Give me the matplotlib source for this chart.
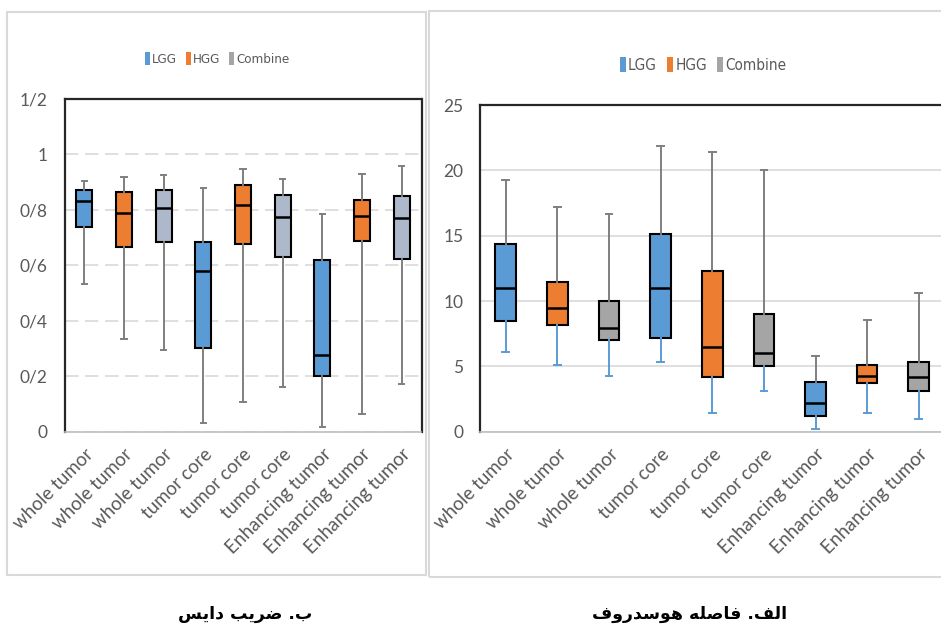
import matplotlib
matplotlib.use("Agg")
from matplotlib import pyplot as plt
from matplotlib.patches import Patch, Rectangle

W, H = 941, 632

categories = ["whole tumor", "whole tumor", "whole tumor",
              "tumor core", "tumor core", "tumor core",
              "Enhancing tumor", "Enhancing tumor", "Enhancing tumor"]
groups = ["LGG", "HGG", "Combine"] * 3

# Dice coefficient (left panel): low whisker, Q1, median, Q3, high whisker
dice_low = [0.531, 0.334, 0.295, 0.030, 0.106, 0.159, 0.018, 0.063, 0.173]
dice_q1 = [0.739, 0.666, 0.684, 0.301, 0.678, 0.628, 0.200, 0.688, 0.623]
dice_med = [0.831, 0.787, 0.807, 0.581, 0.816, 0.773, 0.277, 0.778, 0.770]
dice_q3 = [0.873, 0.865, 0.873, 0.684, 0.888, 0.855, 0.618, 0.837, 0.851]
dice_high = [0.904, 0.917, 0.925, 0.880, 0.947, 0.911, 0.784, 0.928, 0.957]
dice_ticks = [0, 0.2, 0.4, 0.6, 0.8, 1.0, 1.2]
dice_ticklabels = ["0", "0/2", "0/4", "0/6", "0/8", "1", "1/2"]

# Hausdorff distance (right panel)
haus_low = [6.07, 5.08, 4.23, 5.36, 1.43, 3.14, 0.18, 1.43, 0.99]
haus_q1 = [8.44, 8.14, 6.99, 7.19, 4.18, 5.00, 1.20, 3.70, 3.14]
haus_med = [11.02, 9.44, 7.93, 11.02, 6.51, 5.99, 2.22, 4.26, 4.18]
haus_q3 = [14.34, 11.45, 9.97, 15.10, 12.27, 8.98, 3.83, 5.08, 5.31]
haus_high = [19.23, 17.22, 16.63, 21.86, 21.43, 20.00, 5.82, 8.55, 10.64]
haus_ticks = [0, 5, 10, 15, 20, 25]

caption_left = "ب. ضریب دایس"
caption_right = "الف. فاصله هوسدروف"

BLUE = "#5B9BD5"
ORANGE = "#ED7D31"
GRAY = "#A5A5A5"
BLUEGRAY = "#ADB9CA"
TXT = "#595959"
TICKFONT = ["Lato", "DejaVu Sans"]

# minimal Arabic/Persian shaping (matplotlib has no text shaping)
FORMS = {
    "ا": ("\uFE8D", "\uFE8E", None, None),
    "ب": ("\uFE8F", "\uFE90", "\uFE91", "\uFE92"),
    "د": ("\uFEA9", "\uFEAA", None, None),
    "ر": ("\uFEAD", "\uFEAE", None, None),
    "س": ("\uFEB1", "\uFEB2", "\uFEB3", "\uFEB4"),
    "ص": ("\uFEB9", "\uFEBA", "\uFEBB", "\uFEBC"),
    "ض": ("\uFEBD", "\uFEBE", "\uFEBF", "\uFEC0"),
    "ف": ("\uFED1", "\uFED2", "\uFED3", "\uFED4"),
    "ل": ("\uFEDD", "\uFEDE", "\uFEDF", "\uFEE0"),
    "ه": ("\uFEE9", "\uFEEA", "\uFEEB", "\uFEEC"),
    "و": ("\uFEED", "\uFEEE", None, None),
    "ی": ("\uFBFC", "\uFBFD", "\uFBFE", "\uFBFF"),
}


def shape_rtl(s):
    out = []
    for i, c in enumerate(s):
        if c not in FORMS:
            out.append(c)
            continue
        prev = s[i - 1] if i > 0 else ""
        nxt = s[i + 1] if i + 1 < len(s) else ""
        jp = prev in FORMS and FORMS[prev][2] is not None
        jn = nxt in FORMS and FORMS[c][2] is not None
        iso, fin, ini, med = FORMS[c]
        if jp and jn:
            out.append(med)
        elif jp:
            out.append(fin)
        elif jn:
            out.append(ini)
        else:
            out.append(iso)
    return "".join(out)[::-1]


def px_axes(fig, x0, x1, ytop, ybot):
    return fig.add_axes([x0 / W, 1 - ybot / H, (x1 - x0) / W, (ybot - ytop) / H])


def draw_panel(ax, low, q1, med, q3, high, colors, split_whiskers, ticks, ticklabels, ylim, dashed):
    stats = []
    for i in range(len(categories)):
        stats.append(dict(whislo=low[i], q1=q1[i], med=med[i], q3=q3[i],
                          whishi=high[i], fliers=[], label=categories[i]))
    pos = list(range(len(stats)))
    res = ax.bxp(stats, positions=pos, widths=0.4, patch_artist=True, showfliers=False,
                 boxprops=dict(edgecolor="black", linewidth=1.5),
                 medianprops=dict(color="black", linewidth=1.8),
                 whiskerprops=dict(color="#7F7F7F", linewidth=1.4),
                 capprops=dict(color="#7F7F7F", linewidth=1.4),
                 capwidths=0.13, zorder=3)
    for b, c in zip(res["boxes"], colors):
        b.set_facecolor(c)
    if split_whiskers:
        for i in range(len(stats)):
            res["whiskers"][2 * i].set_color(BLUE)
            res["caps"][2 * i].set_color(BLUE)
    ax.set_xlim(-0.5, len(stats) - 0.5)
    ax.set_ylim(*ylim)
    ax.set_yticks(ticks)
    ax.set_yticklabels(ticklabels)
    ax.set_xticks(pos)
    ax.set_xticklabels(categories, rotation=45, ha="right", rotation_mode="anchor")
    ax.tick_params(axis="both", length=0, colors=TXT)
    ax.tick_params(axis="y", pad=12, labelsize=12.5)
    ax.tick_params(axis="x", pad=10, labelsize=13.5)
    for lab in ax.get_xticklabels() + ax.get_yticklabels():
        lab.set_family(TICKFONT)
    ax.grid(axis="y", color="#D9D9D9", linewidth=1.2,
            linestyle=(0, (8, 4)) if dashed else "-", zorder=0)
    ax.set_axisbelow(True)
    for s in ["left", "top", "right"]:
        ax.spines[s].set_color("#262626")
        ax.spines[s].set_linewidth(1.6)
    ax.spines["bottom"].set_color("#BFBFBF")
    ax.spines["bottom"].set_linewidth(1.2)


fig = plt.figure(figsize=(W / 100, H / 100), dpi=100)

# panel frames
fig.patches.append(Rectangle((7 / W, 1 - 575 / H), 419 / W, 563 / H, transform=fig.transFigure,
                             fill=False, edgecolor="#D9D9D9", linewidth=1.5))
fig.patches.append(Rectangle((429 / W, 1 - 577 / H), 520 / W, 566 / H, transform=fig.transFigure,
                             fill=False, edgecolor="#D9D9D9", linewidth=1.5))

ax1 = px_axes(fig, 64.5, 421.5, 99, 431.5)
draw_panel(ax1, dice_low, dice_q1, dice_med, dice_q3, dice_high,
           [BLUE, ORANGE, BLUEGRAY] * 3, False, dice_ticks, dice_ticklabels, (0, 1.2), True)

ax2 = px_axes(fig, 480, 944.6, 105, 431.7)
draw_panel(ax2, haus_low, haus_q1, haus_med, haus_q3, haus_high,
           [BLUE, ORANGE, GRAY] * 3, True, haus_ticks, [str(t) for t in haus_ticks], (0, 25), False)

handles = [Patch(facecolor=BLUE), Patch(facecolor=ORANGE), Patch(facecolor=GRAY)]
for ax, (lx, ly, fs) in [(ax1, (217, 59, 9.5), ), (ax2, (703, 65, 11))]:
    leg = fig.legend(handles, ["LGG", "HGG", "Combine"], loc="center",
                     bbox_to_anchor=(lx / W, 1 - ly / H), ncol=3, frameon=False,
                     handlelength=0.4, handleheight=1.1, handletextpad=0.15,
                     columnspacing=0.65,
                     prop=dict(family="DejaVu Sans", stretch="condensed", size=fs))
    for t in leg.get_texts():
        t.set_color(TXT)

capfont = dict(family=["DejaVu Sans"], weight="bold", size=12.5, color="black")
fig.text(245 / W, 1 - 614 / H, shape_rtl(caption_left), ha="center", va="center", **capfont)
fig.text(690 / W, 1 - 614 / H, shape_rtl(caption_right), ha="center", va="center", **capfont)

fig.savefig("out.png", dpi=100)
